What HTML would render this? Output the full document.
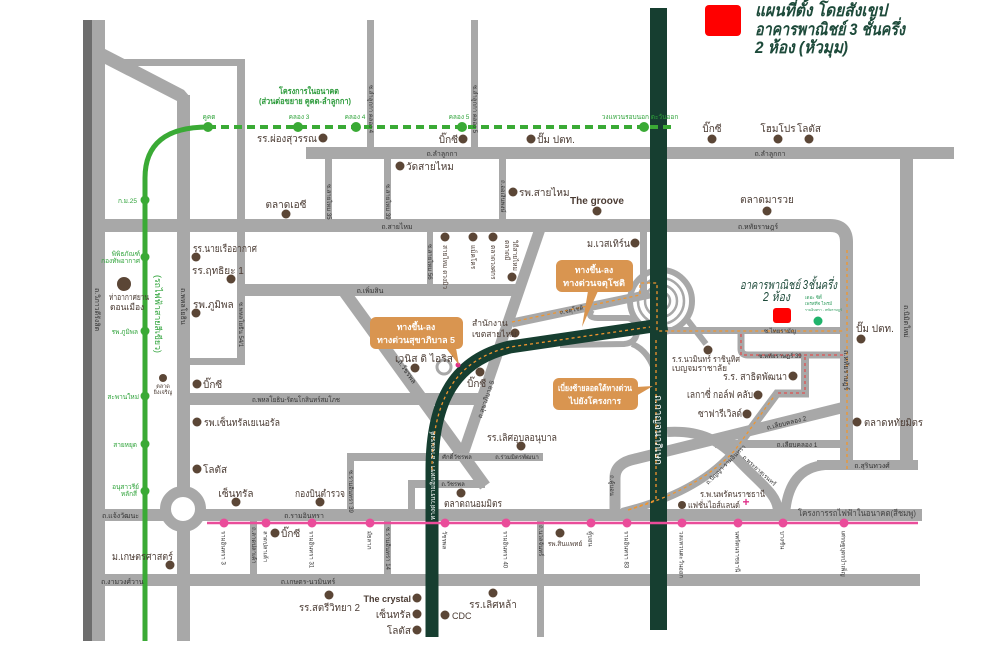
<!DOCTYPE html>
<html><head><meta charset="utf-8">
<style>
html,body{margin:0;padding:0;background:#fff;}
svg{display:block;}
text{font-family:"Liberation Sans","DejaVu Sans",sans-serif;}
.p{font-size:10px;fill:#4a3b33;}
.ps{font-size:8.5px;fill:#4a3b33;}
.r{font-size:7px;fill:#333;}
.rs{font-size:6px;fill:#333;}
.g{font-size:6.5px;fill:#2fa33a;}
.w{font-size:8.5px;fill:#fff;font-weight:bold;}
.st{font-size:6px;fill:#333;}
</style></head><body>
<svg width="1000" height="656" viewBox="0 0 1000 656" xmlns="http://www.w3.org/2000/svg">
<rect width="1000" height="656" fill="#fff"/>

<!-- roads -->
<g fill="#a8a8a8">
<rect x="83" y="20" width="22" height="621"/>
<polygon points="105,49 184,90 190,97 190,108 177,108 177,101 105,64"/>
<rect x="118" y="59" width="127" height="7"/>
<rect x="237" y="59" width="8" height="306"/>
<rect x="190" y="358" width="55" height="7"/>
<rect x="177" y="95" width="13" height="546"/>
<rect x="306" y="147" width="648" height="12"/>
<rect x="367" y="20" width="7" height="127"/>
<rect x="471" y="20" width="7" height="127"/>
<rect x="325" y="159" width="7" height="61"/>
<rect x="384" y="159" width="7" height="61"/>
<rect x="499" y="159" width="7" height="61"/>
<rect x="900" y="159" width="13" height="311"/>
<rect x="817" y="460" width="101" height="10"/>
<rect x="237" y="284" width="280" height="12"/>
<rect x="427" y="232" width="6" height="52"/>
<rect x="190" y="393" width="291" height="12"/>
<rect x="347" y="453" width="196" height="8"/>
<rect x="347" y="453" width="7" height="62"/>
<rect x="408" y="480" width="77" height="8"/>
<rect x="408" y="480" width="7" height="35"/>
<rect x="105" y="509" width="817" height="12"/>
<rect x="105" y="574" width="815" height="12"/>
<rect x="250" y="521" width="7" height="53"/>
<rect x="384" y="521" width="7" height="53"/>
<rect x="537" y="521" width="7" height="116"/>
<rect x="715" y="440" width="130" height="8"/>
<rect x="667" y="327" width="176" height="7"/>
<rect x="640" y="232" width="7" height="66"/>
</g>
<rect x="83" y="20" width="9" height="621" fill="#6d6d6d"/>
<g fill="none" stroke="#a8a8a8">
<path d="M105,225.5 H830 Q846.5,225.5 846.5,242 V470" stroke-width="13"/>
<path d="M825,465 Q788,468 785,515" stroke-width="10"/>
<line x1="343" y1="290" x2="485" y2="486" stroke-width="12"/>
<line x1="541" y1="226" x2="462" y2="457" stroke-width="11"/>
<path d="M615,512 V478 Q615,463 635,459 L845,407" stroke-width="11"/>
<path d="M622,512 C670,500 710,480 735,450 L777,393.5 H805 V357" stroke-width="8"/>
<path d="M667,432 C700,430 720,440 740,462 C762,485 778,495 778,512" stroke-width="10"/>
<path d="M741,334 V349 Q741,355 748,355 H843" stroke-width="7"/>
<line x1="512" y1="323" x2="650" y2="294" stroke-width="9"/>
<path d="M592,310 Q586,318 598,318 L628,318 Q638,320 637,332 Q636,343 624,344 L560,345" stroke-width="6"/>
<path d="M632,344 Q648,350 655,372" stroke-width="6"/>
<circle cx="444" cy="367" r="7" stroke-width="3"/>
<circle cx="661" cy="301" r="31" stroke-width="6"/>
<circle cx="661" cy="301" r="23" stroke-width="2.5"/>
<circle cx="661" cy="301" r="16" stroke-width="2.5"/>
<circle cx="661" cy="301" r="9" stroke-width="2.5"/>
<line x1="686" y1="318" x2="706" y2="344" stroke-width="6"/>
<circle cx="183" cy="509" r="17.5" stroke-width="11" fill="#fff"/>
</g>

<!-- expressways -->
<rect x="650" y="8" width="17" height="622" fill="#163e30"/>
<path d="M432,637 V470 C432,400 455,360 510,347 L667,324" stroke="#163e30" stroke-width="13" fill="none"/>

<!-- routes -->
<g fill="none" stroke-width="1.3" stroke-dasharray="3,3">
<path d="M432,470 C432,400 455,360 510,347 L650,327" stroke="#f0952e"/>
<path d="M512,322 L640,295 V283 H657 V331 H843" stroke="#f0952e"/>
<path d="M847,250 V470" stroke="#f0952e"/>
<path d="M656,340 V500 L628,510" stroke="#f0952e"/>
<path d="M628,510 C670,498 710,478 735,450 L775,395" stroke="#f0952e"/>
<path d="M741,334 V355 H843" stroke="#e05050"/>
<path d="M805,357 V393 H777" stroke="#e05050"/>
</g>
<circle cx="458" cy="365" r="2.5" fill="#e0308a"/>

<!-- pink line -->
<line x1="207" y1="523" x2="918" y2="523" stroke="#ea4c9a" stroke-width="2.5"/>
<g fill="#ea4c9a">
<circle cx="224" cy="523" r="4.5"/><circle cx="266" cy="523" r="4.5"/><circle cx="312" cy="523" r="4.5"/>
<circle cx="370" cy="523" r="4.5"/><circle cx="445" cy="523" r="4.5"/><circle cx="506" cy="523" r="4.5"/>
<circle cx="591" cy="523" r="4.5"/><circle cx="627" cy="523" r="4.5"/><circle cx="682" cy="523" r="4.5"/>
<circle cx="738" cy="523" r="4.5"/><circle cx="783" cy="523" r="4.5"/><circle cx="844" cy="523" r="4.5"/>
</g>
<g class="st">
<text transform="translate(221.5,531) rotate(90)">รามอินทรา 3</text>
<text transform="translate(263.5,531) rotate(90)">ลาดปลาเค้า</text>
<text transform="translate(309.5,531) rotate(90)">รามอินทรา 31</text>
<text transform="translate(367.5,531) rotate(90)">มัยลาภ</text>
<text transform="translate(442.5,531) rotate(90)">วัชรพล</text>
<text transform="translate(503.5,531) rotate(90)">รามอินทรา 40</text>
<text transform="translate(588.5,531) rotate(90)">คู้บอน</text>
<text transform="translate(624.5,531) rotate(90)">รามอินทรา 83</text>
<text transform="translate(679.5,531) rotate(90)">วงแหวนตะวันออก</text>
<text transform="translate(735.5,531) rotate(90)">นพรัตนราชธานี</text>
<text transform="translate(780.5,531) rotate(90)">บางชัน</text>
<text transform="translate(841.5,531) rotate(90)">เศรษฐบุตรบำเพ็ญ</text>
</g>

<!-- green line -->
<path d="M145,641 V178 Q145,127 208,127" stroke="#3aaa35" stroke-width="5" fill="none"/>
<line x1="208" y1="127" x2="672" y2="127" stroke="#3aaa35" stroke-width="4" stroke-dasharray="8,5"/>
<g fill="#3aaa35">
<circle cx="208" cy="127" r="5"/><circle cx="298" cy="127" r="5"/><circle cx="356" cy="127" r="5"/>
<circle cx="462" cy="127" r="5"/><circle cx="644" cy="127" r="5"/>
<circle cx="145" cy="200" r="4.5"/><circle cx="145" cy="257" r="4.5"/><circle cx="145" cy="331" r="4.5"/>
<circle cx="145" cy="396" r="4.5"/><circle cx="145" cy="444" r="4.5"/><circle cx="145" cy="491" r="4.5"/>
</g>
<g class="g">
<text x="209" y="119" text-anchor="middle">คูคต</text>
<text x="299" y="119" text-anchor="middle">คลอง 3</text>
<text x="355" y="119" text-anchor="middle">คลอง 4</text>
<text x="459" y="119" text-anchor="middle">คลอง 5</text>
<text x="640" y="119" text-anchor="middle">วงแหวนรอบนอก ตะวันออก</text>
<text x="137" y="203" text-anchor="end">ก.ม.25</text>
<text x="140" y="256" text-anchor="end">พิพิธภัณฑ์</text>
<text x="140" y="263" text-anchor="end">กองทัพอากาศ</text>
<text x="138" y="334" text-anchor="end">รพ.ภูมิพล</text>
<text x="139" y="399" text-anchor="end">สะพานใหม่</text>
<text x="137" y="447" text-anchor="end">สายหยุด</text>
<text x="139" y="489" text-anchor="end">อนุสาวรีย์</text>
<text x="137" y="496" text-anchor="end">หลักสี่</text>
</g>
<text x="309" y="94" text-anchor="middle" textLength="60" lengthAdjust="spacingAndGlyphs" style="font-size:8.5px;fill:#2b9a3a;font-weight:bold">โครงการในอนาคต</text>
<text x="305" y="104" text-anchor="middle" textLength="92" lengthAdjust="spacingAndGlyphs" style="font-size:8.5px;fill:#2b9a3a;font-weight:bold">(ส่วนต่อขยาย คูคต-ลำลูกกา)</text>
<text transform="translate(155,275) rotate(90)" textLength="78" lengthAdjust="spacingAndGlyphs" style="font-size:9px;fill:#2fa33a">(รถไฟฟ้าสายสีเขียว)</text>

<!-- callouts -->
<g fill="#d99550">
<rect x="370" y="317" width="93" height="32" rx="6"/>
<polygon points="446,348 456,348 459,365"/>
<rect x="556" y="260" width="77" height="32" rx="6"/>
<polygon points="588,291 598,291 582,327"/>
<rect x="553" y="378" width="85" height="32" rx="6"/>
<polygon points="636,387 636,396 653,386"/>
</g>
<g class="w" text-anchor="middle">
<text x="416" y="330">ทางขึ้น-ลง</text>
<text x="416" y="343" textLength="78" lengthAdjust="spacingAndGlyphs">ทางด่วนสุขาภิบาล 5</text>
<text x="594" y="273">ทางขึ้น-ลง</text>
<text x="594" y="286" textLength="62" lengthAdjust="spacingAndGlyphs">ทางด่วนจตุโชติ</text>
<text x="595" y="391" textLength="74" lengthAdjust="spacingAndGlyphs">เบี่ยงซ้ายลอดใต้ทางด่วน</text>
<text x="595" y="404">ไปยังโครงการ</text>
</g>

<!-- expressway labels -->
<text transform="translate(655,395) rotate(90)" style="font-size:10px;fill:#fff">ถ.กาญจนาภิเษก</text>
<text transform="translate(435,520) rotate(-90)" style="font-size:6.5px;fill:#fff">ทางด่วนรามอินทรา - อาจณรงค์</text>

<!-- road labels -->
<g class="r">
<text x="442" y="156" text-anchor="middle">ถ.ลำลูกกา</text>
<text x="770" y="156" text-anchor="middle">ถ.ลำลูกกา</text>
<text x="397" y="229" text-anchor="middle">ถ.สายไหม</text>
<text x="758" y="229" text-anchor="middle">ถ.หทัยราษฎร์</text>
<text x="370" y="293" text-anchor="middle">ถ.เพิ่มสิน</text>
<text x="296" y="402" text-anchor="middle" textLength="88" lengthAdjust="spacingAndGlyphs">ถ.พหลโยธิน-รัตนโกสินทร์สมโภช</text>
<text x="102" y="518">ถ.แจ้งวัฒนะ</text>
<text x="304" y="518" text-anchor="middle">ถ.รามอินทรา</text>
<text x="101" y="584">ถ.งามวงศ์วาน</text>
<text x="308" y="584" text-anchor="middle">ถ.เกษตร-นวมินทร์</text>
<text x="797" y="447" text-anchor="middle" style="font-size:6.5px">ถ.เลียบคลอง 1</text>
<text x="872" y="468" text-anchor="middle">ถ.สุรินทวงศ์</text>
<text transform="translate(787,425) rotate(-14)" text-anchor="middle" style="font-size:6.5px">ถ.เลียบคลอง 2</text>
<text transform="translate(405,373) rotate(55)" text-anchor="middle">ถ.วัชรพล</text>
<text transform="translate(488,400) rotate(-71)" text-anchor="middle" style="font-size:6.5px">ถ.สุขาภิบาล 5</text>
<text transform="translate(727,466) rotate(-45)" text-anchor="middle" style="font-size:6px">ถ.ปัญญา-รามอินทรา</text>
<text transform="translate(758,472) rotate(42)" text-anchor="middle" style="font-size:6px">ถ.พระยาสุเรนทร์</text>
<text transform="translate(95,288) rotate(90)">ถ.วิภาวดีรังสิต</text>
<text transform="translate(181,288) rotate(90)">ถ.พหลโยธิน</text>
<text transform="translate(904,305) rotate(90)">ถ.นิมิตใหม่</text>
<text transform="translate(844,350) rotate(90)">ถ.หทัยราษฎร์</text>
</g>
<g class="rs">
<text x="780" y="333" text-anchor="middle">ซ.ไทยรามัญ</text>
<text x="780" y="358" text-anchor="middle">ซ.หทัยราษฎร์ 39</text>
<text transform="translate(572,312) rotate(-12)" text-anchor="middle">ถ.จตุโชติ</text>
<text x="457" y="459" text-anchor="middle">ศักดิ์วัชรพล</text>
<text x="517" y="459" text-anchor="middle">ถ.ร่วมมิตรพัฒนา</text>
<text x="453" y="486" text-anchor="middle">ถ.วัชรพล</text>
<text transform="translate(239,302) rotate(90)">ซ.พหลโยธิน 54/1</text>
<text transform="translate(610,475) rotate(90)">ถ.คู้บอน</text>
<text transform="translate(539,525) rotate(90)">ถ.นวลจันทร์</text>
<text transform="translate(349,470) rotate(90)">ซ.รามอินทรา 39</text>
<text transform="translate(252,527) rotate(90)">ถ.ลาดปลาเค้า</text>
<text transform="translate(386,527) rotate(90)">ซ.รามอินทรา 14</text>
<text transform="translate(369,85) rotate(90)">ซ.ลำลูกกา คลอง 4</text>
<text transform="translate(473,85) rotate(90)">ซ.ลำลูกกา คลอง 5</text>
<text transform="translate(327,184) rotate(90)">ซ.สายไหม 35</text>
<text transform="translate(386,184) rotate(90)">ซ.สายไหม 39</text>
<text transform="translate(501,180) rotate(90)">ถ.ออเงินพงษ์</text>
<text transform="translate(428,244) rotate(90)">ซ.สายไหม 56</text>
</g>

<!-- POI dots -->
<g fill="#5b4636">
<circle cx="323" cy="138" r="4.5"/><circle cx="286" cy="214" r="4.5"/>
<circle cx="463" cy="139" r="4.5"/><circle cx="531" cy="139" r="4.5"/>
<circle cx="400" cy="166" r="4.5"/><circle cx="513" cy="192" r="4.5"/><circle cx="597" cy="211" r="4.5"/>
<circle cx="712" cy="139" r="4.5"/><circle cx="778" cy="139" r="4.5"/><circle cx="809" cy="139" r="4.5"/>
<circle cx="767" cy="211" r="4.5"/>
<circle cx="196" cy="257" r="4.5"/><circle cx="231" cy="279" r="4.5"/><circle cx="196" cy="313" r="4.5"/>
<circle cx="124" cy="284" r="7"/>
<circle cx="163" cy="378" r="4"/><circle cx="197" cy="384" r="4.5"/><circle cx="197" cy="422" r="4.5"/>
<circle cx="197" cy="469" r="4.5"/><circle cx="236" cy="502" r="4.5"/><circle cx="320" cy="502" r="4.5"/>
<circle cx="275" cy="533" r="4.5"/><circle cx="170" cy="565" r="4.5"/><circle cx="329" cy="595" r="4.5"/>
<circle cx="417" cy="598" r="4.5"/><circle cx="417" cy="614" r="4.5"/><circle cx="417" cy="630" r="4.5"/>
<circle cx="445" cy="615" r="4.5"/><circle cx="493" cy="593" r="4.5"/><circle cx="461" cy="493" r="4.5"/>
<circle cx="560" cy="533" r="4.5"/><circle cx="521" cy="446" r="4.5"/><circle cx="635" cy="243" r="4.5"/>
<circle cx="515" cy="333" r="4.5"/><circle cx="415" cy="368" r="4.5"/><circle cx="480" cy="372" r="4.5"/>
<circle cx="445" cy="237" r="4.5"/><circle cx="473" cy="237" r="4.5"/><circle cx="493" cy="237" r="4.5"/><circle cx="512" cy="277" r="4.5"/>
<circle cx="708" cy="350" r="4.5"/><circle cx="793" cy="376" r="4.5"/><circle cx="758" cy="395" r="4.5"/>
<circle cx="747" cy="414" r="4.5"/><circle cx="857" cy="422" r="4.5"/><circle cx="861" cy="339" r="4.5"/>
<circle cx="682" cy="505" r="4"/>
</g>

<!-- POI labels -->
<g class="p">
<text x="317" y="142" text-anchor="end" textLength="60" lengthAdjust="spacingAndGlyphs">รร.ผ่องสุวรรณ</text>
<text x="286" y="208" text-anchor="middle">ตลาดเอซี</text>
<text x="458" y="143" text-anchor="end">บิ๊กซี</text>
<text x="537" y="143">ปั๊ม ปตท.</text>
<text x="406" y="170">วัดสายไหม</text>
<text x="519" y="196">รพ.สายไหม</text>
<text x="597" y="204" text-anchor="middle" style="font-weight:bold">The groove</text>
<text x="712" y="132" text-anchor="middle">บิ๊กซี</text>
<text x="778" y="132" text-anchor="middle">โฮมโปร</text>
<text x="809" y="132" text-anchor="middle">โลตัส</text>
<text x="767" y="203" text-anchor="middle">ตลาดมารวย</text>
<text x="193" y="252" textLength="64" lengthAdjust="spacingAndGlyphs">รร.นายเรืออากาศ</text>
<text x="192" y="274">รร.ฤทธิยะ 1</text>
<text x="193" y="308">รพ.ภูมิพล</text>
<text x="203" y="388">บิ๊กซี</text>
<text x="204" y="426" textLength="76" lengthAdjust="spacingAndGlyphs">รพ.เซ็นทรัลเยเนอรัล</text>
<text x="203" y="473">โลตัส</text>
<text x="236" y="497" text-anchor="middle">เซ็นทรัล</text>
<text x="320" y="497" text-anchor="middle" textLength="50" lengthAdjust="spacingAndGlyphs">กองบินตำรวจ</text>
<text x="281" y="537">บิ๊กซี</text>
<text x="173" y="560" text-anchor="end" textLength="61" lengthAdjust="spacingAndGlyphs">ม.เกษตรศาสตร์</text>
<text x="299" y="611" textLength="61" lengthAdjust="spacingAndGlyphs">รร.สตรีวิทยา 2</text>
<text x="411" y="602" text-anchor="end" style="font-size:9px;font-weight:bold">The crystal</text>
<text x="411" y="618" text-anchor="end">เซ็นทรัล</text>
<text x="411" y="634" text-anchor="end">โลตัส</text>
<text x="452" y="619" style="font-size:9px">CDC</text>
<text x="493" y="608" text-anchor="middle">รร.เลิศหล้า</text>
<text x="473" y="507" text-anchor="middle" textLength="58" lengthAdjust="spacingAndGlyphs">ตลาดถนอมมิตร</text>
<text x="487" y="441" textLength="70" lengthAdjust="spacingAndGlyphs">รร.เลิศอุบลอนุบาล</text>
<text x="630" y="247" text-anchor="end" textLength="43" lengthAdjust="spacingAndGlyphs">ม.เวสเทิร์น</text>
<text x="395" y="362" textLength="58" lengthAdjust="spacingAndGlyphs">เวนิส ดิ ไอริส</text>
<text x="467" y="387">บิ๊กซี</text>
<text x="787" y="380" text-anchor="end" textLength="64" lengthAdjust="spacingAndGlyphs">ร.ร. สาธิตพัฒนา</text>
<text x="753" y="398" text-anchor="end" textLength="66" lengthAdjust="spacingAndGlyphs">เลกาซี่ กอล์ฟ คลับ</text>
<text x="742" y="417" text-anchor="end" textLength="44" lengthAdjust="spacingAndGlyphs">ซาฟารีเวิลด์</text>
<text x="864" y="426" textLength="59" lengthAdjust="spacingAndGlyphs">ตลาดหทัยมิตร</text>
<text x="856" y="332">ปั๊ม ปตท.</text>
</g>
<g class="ps">
<text x="109" y="300" textLength="40" lengthAdjust="spacingAndGlyphs">ท่าอากาศยาน</text>
<text x="110" y="310">ดอนเมือง</text>
<text x="472" y="326">สำนักงาน</text>
<text x="472" y="337">เขตสายไหม</text>
<text x="672" y="362" textLength="68" lengthAdjust="spacingAndGlyphs">ร.ร.นวมินทร์ ราชินูทิศ</text>
<text x="672" y="371" textLength="55" lengthAdjust="spacingAndGlyphs">เบญจมราชาลัย</text>
<text x="700" y="497" textLength="65" lengthAdjust="spacingAndGlyphs">ร.พ.นพรัตนราชธานี</text>
<text x="688" y="508" textLength="52" lengthAdjust="spacingAndGlyphs">แฟชั่นไอส์แลนด์</text>
</g>
<text x="163" y="388" text-anchor="middle" style="font-size:5.5px;fill:#4a3b33">ตลาด</text>
<text x="163" y="394" text-anchor="middle" style="font-size:5.5px;fill:#4a3b33">ยิ่งเจริญ</text>
<text x="565" y="546" text-anchor="middle" style="font-size:6.5px;fill:#4a3b33">รพ.สินแพทย์</text>
<g style="font-size:6.5px;fill:#4a3b33">
<text transform="translate(443,245) rotate(90)">สายไหม ดวงมิว</text>
<text transform="translate(471,245) rotate(90)">แม็คโคร</text>
<text transform="translate(491,245) rotate(90)">ตลาดวงศกร</text>
<text transform="translate(505,240) rotate(90)">ตลาดมี</text>
<text transform="translate(513,240) rotate(90)">วิถีสายไหม</text>
</g>
<text x="746" y="506" text-anchor="middle" style="font-size:12px;fill:#e0308a;font-weight:bold">+</text>
<text x="798" y="516" textLength="118" lengthAdjust="spacingAndGlyphs" style="font-size:8.5px;fill:#444">โครงการรถไฟฟ้าในอนาคต(สีชมพู)</text>

<!-- project marker -->
<text x="740" y="289" textLength="97" lengthAdjust="spacingAndGlyphs" style="font-size:12.5px;fill:#1d4a3a;font-style:italic">อาคารพาณิชย์ 3ชั้นครึ่ง</text>
<text x="763" y="301" textLength="27" lengthAdjust="spacingAndGlyphs" style="font-size:12.5px;fill:#1d4a3a;font-style:italic">2 ห้อง</text>
<rect x="773" y="308" width="18" height="15" rx="3" fill="#ff0000"/>
<g style="font-size:4.5px;fill:#2a9a5a">
<text x="805" y="299">เดอะ ซิตี้</text>
<text x="805" y="305">เพรสทีจ ไพรม์</text>
<text x="805" y="311" style="font-size:3.5px">รามอินทรา - หทัยราษฎร์</text>
</g>
<circle cx="818" cy="321" r="4.5" fill="#1fb36b"/>

<!-- legend -->
<rect x="705" y="5" width="36" height="31" rx="4" fill="#ff0000"/>
<g style="font-size:17px;fill:#1d4a3a;font-style:italic;font-weight:bold">
<text x="755" y="16" textLength="132" lengthAdjust="spacingAndGlyphs">แผนที่ตั้ง โดยสังเขป</text>
<text x="755" y="35" textLength="150" lengthAdjust="spacingAndGlyphs">อาคารพาณิชย์ 3 ชั้นครึ่ง</text>
<text x="755" y="53" textLength="93" lengthAdjust="spacingAndGlyphs">2 ห้อง (หัวมุม)</text>
</g>
</svg>
</body></html>
